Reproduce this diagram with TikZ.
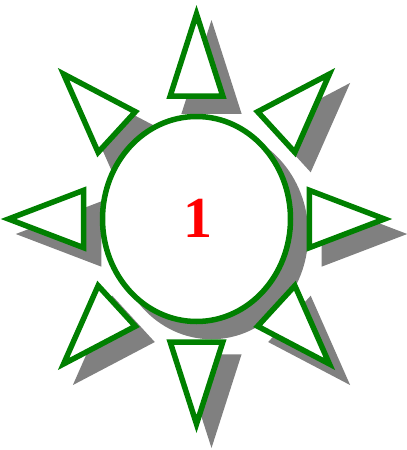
\documentclass[tikz,border=0pt]{standalone}
\usepackage{fontspec}
\setmainfont{Liberation Serif}
\definecolor{sungreen}{HTML}{008000}
\definecolor{shadowgray}{HTML}{808080}
\definecolor{numred}{HTML}{FF0000}
\newcommand\sunrays[1]{%
  \foreach \a in {0,45,...,315}{
    \path[#1] ({\cx+\rx*(1.2*cos(\a)+0.28*sin(\a))},{\cy-\ry*(1.2*sin(\a)-0.28*cos(\a))})
      -- ({\cx+\rx*2*cos(\a)},{\cy-\ry*2*sin(\a)})
      -- ({\cx+\rx*(1.2*cos(\a)-0.28*sin(\a))},{\cy-\ry*(1.2*sin(\a)+0.28*cos(\a))}) -- cycle;
  }%
}
\begin{document}
\begin{tikzpicture}[x=1pt,y=-1pt,
  shapeline/.style={draw=sungreen, line width=5.5pt, fill=white, line join=miter},
  shadowfill/.style={draw=shadowgray, fill=shadowgray, line width=5.5pt, line join=miter}]
\useasboundingbox (0,0) rectangle (407,450);
\def\cx{196.5}\def\cy{219}\def\rx{94}\def\ry{102.5}
\begin{scope}[shift={(15,15)}]
  \path[shadowfill] (\cx,\cy) ellipse [x radius=94pt, y radius=102.5pt];
  \sunrays{shadowfill}
\end{scope}
\sunrays{shapeline}
\path[shapeline] (\cx,\cy) ellipse [x radius=94pt, y radius=102.5pt];
\node[text=numred, font=\bfseries\fontsize{58}{60}\selectfont, inner sep=0pt] (num) at (198,218) {1};
\end{tikzpicture}
\end{document}
